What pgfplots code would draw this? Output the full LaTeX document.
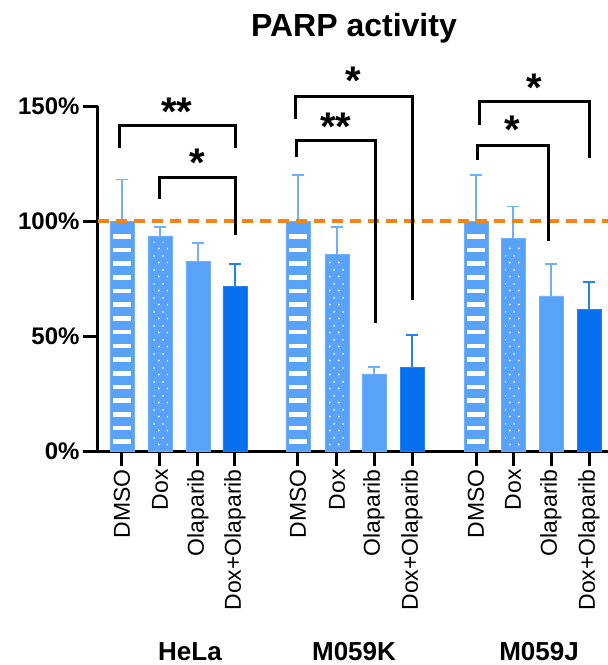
\documentclass[border=0pt]{standalone}
\usepackage{pgfplots}
\pgfplotsset{compat=1.18}
\usepackage{fontspec}
\setmainfont{Liberation Sans}
\usetikzlibrary{patterns}
\definecolor{lblue}{RGB}{88,162,248}
\definecolor{lbluee}{RGB}{110,176,250}
\definecolor{dblue}{RGB}{6,112,240}
\definecolor{dbluee}{RGB}{40,128,242}
\definecolor{dorange}{RGB}{242,132,24}
\pgfdeclarepatternformonly{wdots}{\pgfqpoint{0pt}{0pt}}{\pgfqpoint{9.3pt}{13.6pt}}{\pgfqpoint{9.3pt}{13.6pt}}{\pgfpathcircle{\pgfqpoint{2pt}{2.5pt}}{1pt}\pgfpathcircle{\pgfqpoint{6.5pt}{9.3pt}}{1pt}\pgfusepath{fill}}
\begin{document}
\begin{tikzpicture}
\begin{axis}[
  name=ax, x=1pt, y=2.3pt,
  xmin=97.7, xmax=608, ymin=0, ymax=150,
  axis x line*=bottom, axis y line*=left,
  axis line style={line width=3pt, black},
  clip=false,
  xtick={122,160,198,235,298,337,374,412,476,513,551,589},
  xticklabels={DMSO,Dox,Olaparib,Dox+Olaparib,DMSO,Dox,Olaparib,Dox+Olaparib,DMSO,Dox,Olaparib,Dox+Olaparib},
  ytick={0,50,100,150},
  yticklabels={0\%,50\%,100\%,150\%},
  tick align=outside,
  major tick length=15pt,
  tick style={line width=3pt, black},
  xticklabel style={rotate=90, anchor=east, inner sep=3pt, font=\fontsize{23}{23}\selectfont},
  yticklabel style={inner sep=3pt, font=\bfseries\fontsize{24}{24}\selectfont},
]
% bars
\addplot[ybar, bar shift=0pt, bar width=24pt, fill=lblue, draw=lbluee, line width=0.8pt,
  error bars/.cd, y dir=plus, y explicit,
  error bar style={lbluee, line width=1.7pt},
  error mark=-,
  error mark options={lbluee, line width=1.7pt, mark size=6pt, rotate=90}]
  coordinates {(122,100) +- (0,18) (298,100) +- (0,20) (476,100) +- (0,20)};
\addplot[ybar, bar shift=0pt, bar width=24pt, fill=lblue, draw=lbluee, line width=0.8pt,
  error bars/.cd, y dir=plus, y explicit,
  error bar style={lbluee, line width=1.7pt},
  error mark=-,
  error mark options={lbluee, line width=1.7pt, mark size=6pt, rotate=90}]
  coordinates {(160,93.5) +- (0,4) (337,85.3) +- (0,12) (513,92.3) +- (0,14)};
\addplot[ybar, bar shift=0pt, bar width=24pt, fill=lblue, draw=lbluee, line width=0.8pt,
  error bars/.cd, y dir=plus, y explicit,
  error bar style={lbluee, line width=1.7pt},
  error mark=-,
  error mark options={lbluee, line width=1.7pt, mark size=6pt, rotate=90}]
  coordinates {(198,82.3) +- (0,8) (374,33.5) +- (0,3) (551,67.4) +- (0,14)};
\addplot[ybar, bar shift=0pt, bar width=24pt, fill=dblue, draw=dbluee, line width=0.8pt,
  error bars/.cd, y dir=plus, y explicit,
  error bar style={dbluee, line width=1.7pt},
  error mark=-,
  error mark options={dbluee, line width=1.7pt, mark size=6pt, rotate=90}]
  coordinates {(235,71.4) +- (0,10) (412,36.4) +- (0,14) (589,61.4) +- (0,12)};
% DMSO stripes (white dashes up the bar)
\addplot[ycomb, mark=none, white, line width=18pt, dash pattern=on 4.6pt off 9.1pt, dash phase=6.7pt]
  coordinates {(122,94.5) (298,94.5) (476,94.5)};
% Dox dots
\addplot[ybar, bar shift=0pt, bar width=16pt, draw=none, pattern=wdots, pattern color=white]
  coordinates {(160,91) (337,83) (513,90)};
% reference line
\addplot[dorange, line width=4pt, dash pattern=on 11pt off 7pt] coordinates {(97.7,100) (608,100)};
% brackets
\addplot[black, line width=3pt, line join=miter] coordinates {(120,131.7) (120,141.7) (235.7,141.7) (235.7,131.7)};
\addplot[black, line width=3pt, line join=miter] coordinates {(160,109.6) (160,119) (235.7,119) (235.7,93.9)};
\addplot[black, line width=3pt, line join=miter] coordinates {(296,144.2) (296,154) (412.7,154) (412.7,65.7)};
\addplot[black, line width=3pt, line join=miter] coordinates {(296.7,127.7) (296.7,135.2) (375,135.2) (375,55.5)};
\addplot[black, line width=3pt, line join=miter] coordinates {(479,141.7) (479,151.9) (589,151.9) (589,127.3)};
\addplot[black, line width=3pt, line join=miter] coordinates {(477.3,126.5) (477.3,133) (548.3,133) (548.3,91.3)};
% stars
\begin{scope}[every node/.style={anchor=base, inner sep=0pt, font=\bfseries\fontsize{40}{40}\selectfont, yshift=-20pt}]
\node at (axis cs:176.7,150.4) {**};
\node at (axis cs:197,128) {*};
\node at (axis cs:353,163.5) {*};
\node at (axis cs:335.7,143.9) {**};
\node at (axis cs:534,160.6) {*};
\node at (axis cs:512.7,142.2) {*};
\end{scope}
% title and group labels
\node[anchor=base, inner sep=0pt, font=\bfseries\fontsize{32}{32}\selectfont] at (axis cs:354,180.1) {PARP activity};
\node[anchor=base, inner sep=0pt, font=\bfseries\fontsize{26}{26}\selectfont] at (axis cs:190,-91) {HeLa};
\node[anchor=base, inner sep=0pt, font=\bfseries\fontsize{26}{26}\selectfont] at (axis cs:354,-91) {M059K};
\node[anchor=base, inner sep=0pt, font=\bfseries\fontsize{26}{26}\selectfont] at (axis cs:539,-91) {M059J};
\end{axis}
\pgfresetboundingbox
\path[use as bounding box] ([shift={(-97.7pt,-214pt)}]ax.south west) rectangle ([shift={(510.3pt,451pt)}]ax.south west);
\end{tikzpicture}
\end{document}
